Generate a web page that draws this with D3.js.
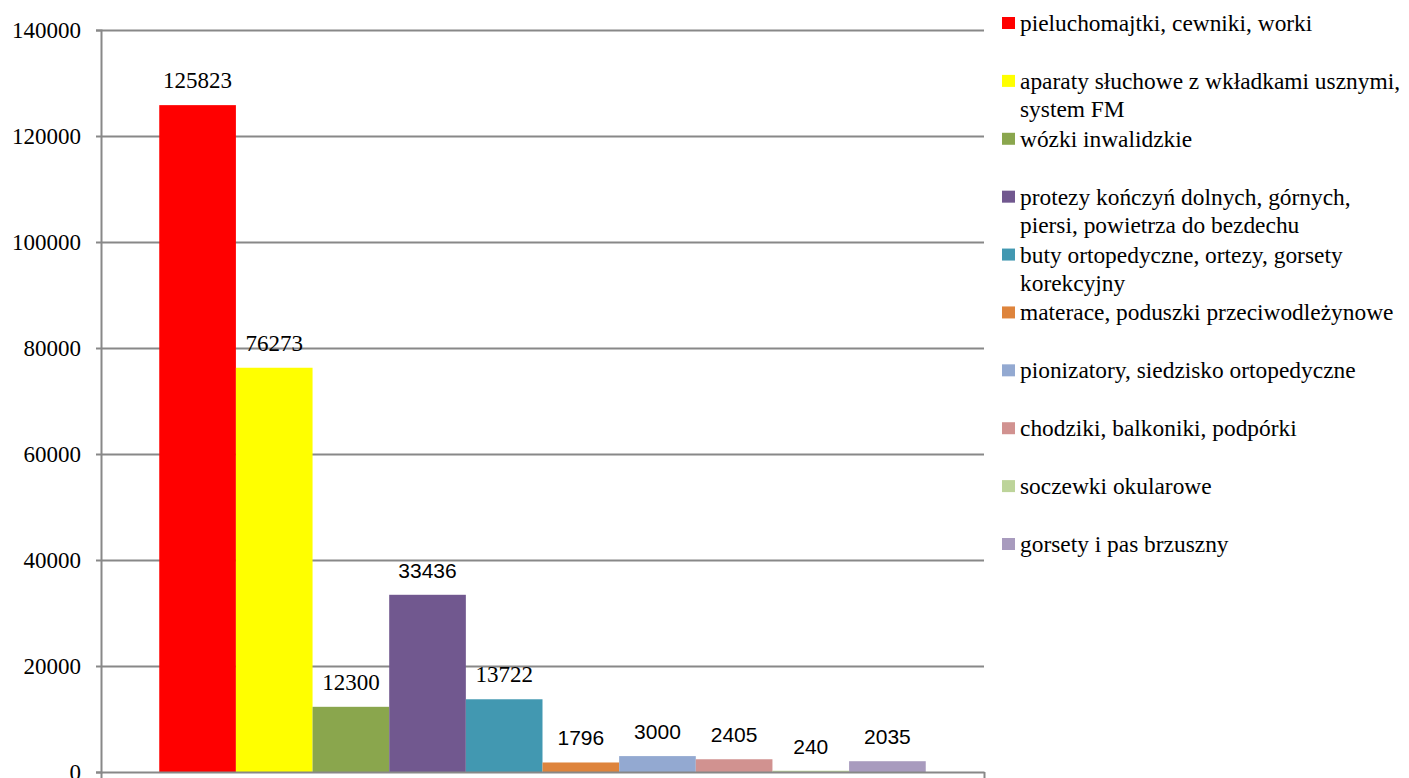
<!DOCTYPE html>
<html lang="pl">
<head>
<meta charset="UTF-8">
<script src="https://d3js.org/d3.v7.min.js"></script>
<title>Wyroby medyczne</title>
<style>
    body { margin: 0; background: white; }
    svg { display: block; }
    .serif { font-family: "Liberation Serif", Tinos, "Times New Roman", Times, "DejaVu Serif", serif; }
    .sans { font-family: "Liberation Sans", Arimo, Arial, sans-serif; }
    .tick text { font-family: "Liberation Serif", Tinos, "Times New Roman", Times, "DejaVu Serif", serif; font-size: 23px; fill: #000; }
</style>
</head>
<body>
<svg id="chart"></svg>
<script>
// data
const categories = [
    "pieluchomajtki, cewniki, worki",
    "aparaty słuchowe z wkładkami usznymi,\nsystem FM",
    "wózki inwalidzkie",
    "protezy kończyń dolnych, górnych,\npiersi, powietrza do bezdechu",
    "buty ortopedyczne, ortezy, gorsety\nkorekcyjny",
    "materace, poduszki przeciwodleżynowe",
    "pionizatory, siedzisko ortopedyczne",
    "chodziki, balkoniki, podpórki",
    "soczewki okularowe",
    "gorsety i pas brzuszny"
];
const values = [125823, 76273, 12300, 33436, 13722, 1796, 3000, 2405, 240, 2035];
const yTicks = [0, 20000, 40000, 60000, 80000, 100000, 120000, 140000];

const colors = ["#ff0000", "#ffff00", "#8aa64d", "#71588f", "#4298b1",
                "#de843c", "#93a9d1", "#d19290", "#bdd49a", "#a89bbe"];
// labels that were set in a sans font in the original
const sansLabels = [3, 5, 6, 7, 8, 9];

const W = 1409, H = 778;
const m = {left: 101, right: 984, top: 30, bottom: 772};

const svg = d3.select("#chart").attr("width", W).attr("height", H);

const y = d3.scaleLinear().domain([0, 140000]).range([m.bottom, m.top]);

const xGroup = d3.scaleBand().domain(["all"]).range([m.left, m.right]).paddingOuter(0.076);
const x = d3.scaleBand().domain(d3.range(values.length))
    .range([xGroup("all"), xGroup("all") + xGroup.bandwidth()]);

// grid
svg.append("g")
   .attr("transform", "translate(" + m.left + ",0)")
   .call(d3.axisLeft(y).tickValues(yTicks.slice(1)).tickSize(-(m.right - m.left)).tickFormat(""))
   .call(g => g.select(".domain").remove())
   .selectAll("line").attr("stroke", "#888").attr("stroke-width", 2);

// bars
svg.selectAll("rect.bar")
   .data(values)
   .enter()
   .append("rect")
   .attr("class", "bar")
   .attr("x", (d, i) => x(i))
   .attr("y", d => y(d))
   .attr("width", x.bandwidth())
   .attr("height", d => y(0) - y(d))
   .style("fill", (d, i) => colors[i]);

// y axis
const yAxis = svg.append("g")
   .attr("transform", "translate(" + m.left + ",0)")
   .call(d3.axisLeft(y).tickValues(yTicks).tickSize(5).tickPadding(15).tickFormat(d3.format("d")));
yAxis.attr("font-family", null);
yAxis.select(".domain").attr("stroke", "#888").attr("stroke-width", 2);
yAxis.selectAll(".tick line").attr("stroke", "#888").attr("stroke-width", 2);

// x axis (single category, ticks at both ends)
const xAxisScale = d3.scaleLinear().domain([0, 1]).range([m.left, m.right]);
const xAxis = svg.append("g")
   .attr("transform", "translate(0," + m.bottom + ")")
   .call(d3.axisBottom(xAxisScale).tickValues([0, 1]).tickSize(6).tickSizeOuter(0).tickFormat(""));
xAxis.select(".domain").attr("stroke", "#888").attr("stroke-width", 2);
xAxis.selectAll(".tick line").attr("stroke", "#888").attr("stroke-width", 2);

// value labels
svg.selectAll("text.val")
   .data(values)
   .enter()
   .append("text")
   .attr("class", (d, i) => "val " + (sansLabels.includes(i) ? "sans" : "serif"))
   .attr("x", (d, i) => x(i) + x.bandwidth() / 2)
   .attr("y", d => y(d) - 17)
   .attr("text-anchor", "middle")
   .style("font-size", (d, i) => sansLabels.includes(i) ? "21px" : "23px")
   .style("fill", "#000")
   .text(d => d);

// legend
const legendY = d3.scaleLinear().domain([0, categories.length - 1]).range([31, 552]);
const legend = svg.selectAll("g.legend")
   .data(categories)
   .enter()
   .append("g")
   .attr("class", "legend")
   .attr("transform", (d, i) => "translate(1002," + legendY(i) + ")");

legend.append("rect")
   .attr("x", 0)
   .attr("y", -14)
   .attr("width", 13)
   .attr("height", 12)
   .style("fill", (d, i) => colors[i]);

legend.append("text")
   .attr("class", "serif")
   .attr("x", 18)
   .attr("y", 0)
   .style("font-size", "23.4px")
   .style("fill", "#000")
   .each(function(d) {
       const t = d3.select(this);
       d.split("\n").forEach((line, k) => {
           t.append("tspan").attr("x", 18).attr("dy", k === 0 ? 0 : 28.5).text(line);
       });
   });
</script>
</body>
</html>
